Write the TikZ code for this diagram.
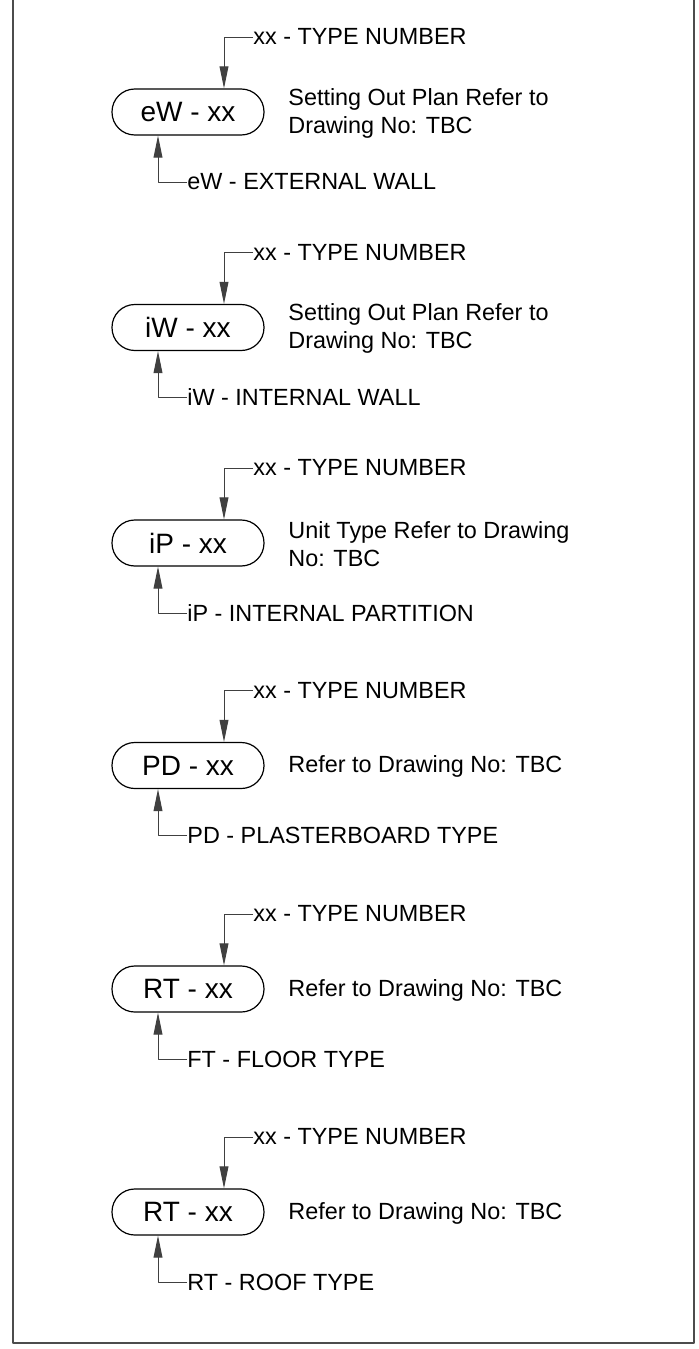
\documentclass[tikz,border=0pt]{standalone}
\usepackage{fontspec}
\setmainfont{Liberation Sans}
\usetikzlibrary{arrows.meta}

\begin{document}
\begin{tikzpicture}[x=0.5pt, y=-0.5pt, line join=round, >={Triangle[length=11pt,width=4.4pt]},
		pill/.style={draw, line width=0.6pt, rounded corners=11.4pt, minimum width=76pt, minimum height=23pt, inner sep=0pt, font=\fontsize{14}{16}\selectfont},
		lbl/.style={anchor=west, inner sep=0pt, font=\fontsize{11.7}{14}\selectfont},
		note/.style={anchor=west, align=left, inner sep=0pt, font=\fontsize{11.7}{14}\selectfont},
		lead/.style={draw=black!75, line width=0.5pt}]
			\useasboundingbox (0,0) rectangle (699,1349);
			
			\draw[line width=1pt, draw=black!70]
				(13,0) -- (13,1342.7) -- (693.7,1342.7) -- (693.7,0)
			;
			
			\foreach \i/\y/\tag/\kind/\txt in {
				1/112/eW - xx/eW - EXTERNAL WALL/{Setting Out Plan Refer to\\Drawing No: TBC},
				2/327.5/iW - xx/iW - INTERNAL WALL/{Setting Out Plan Refer to\\Drawing No: TBC},
				3/543/iP - xx/iP - INTERNAL PARTITION/{Unit Type Refer to Drawing\\No: TBC},
				4/765.5/PD - xx/PD - PLASTERBOARD TYPE/{Refer to Drawing No: TBC},
				5/989/RT - xx/FT - FLOOR TYPE/{Refer to Drawing No: TBC},
				6/1212/RT - xx/RT - ROOF TYPE/{Refer to Drawing No: TBC}}{
				\node[pill] (p\i) at (188,\y) {\tag};
				\node[lbl] (t\i) at (253,\y-75) {xx - TYPE NUMBER};
				\node[lbl] (b\i) at (187,\y+70) {\kind};
				\node[note] (n\i) at (288,\y+1) {\txt};
				\coordinate (ta\i) at (224,\y-75);
				\coordinate (ba\i) at (158,\y+70);
				\draw[lead,->] (t\i.west) -- (ta\i) -- (ta\i |- p\i.north);
				\draw[lead,->] (b\i.west) -- (ba\i) -- (ba\i |- p\i.south);
			};
			
		\end{tikzpicture}
\end{document}
